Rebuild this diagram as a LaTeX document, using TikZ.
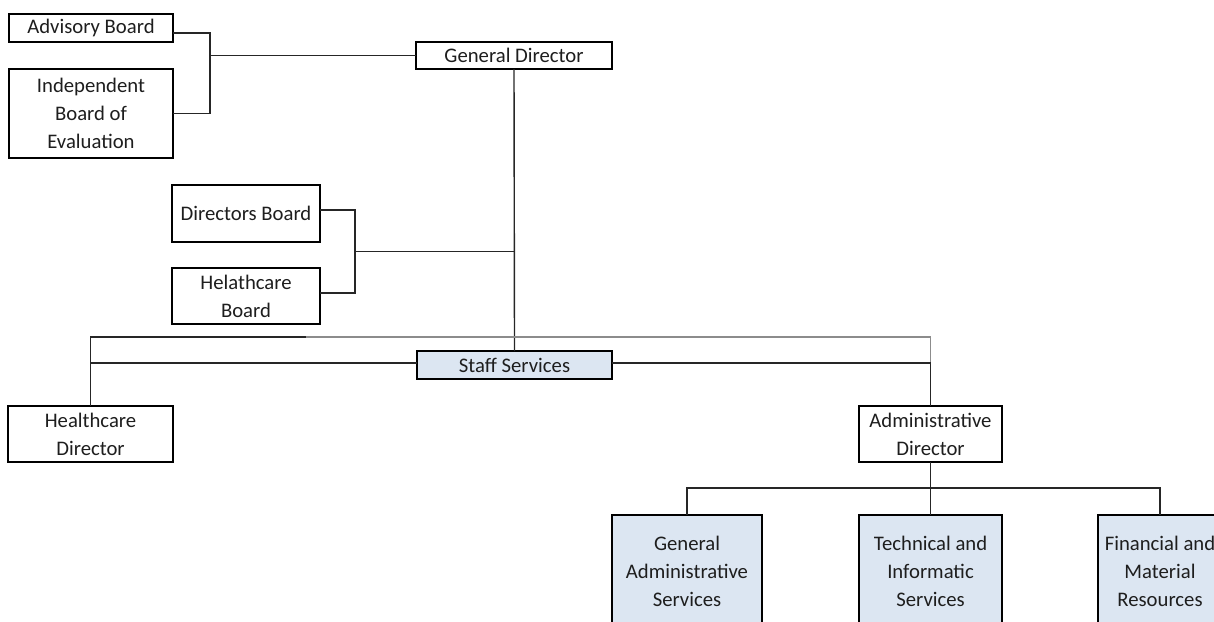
\documentclass[tikz,border=0pt]{standalone}
\usepackage{fontspec}
\setmainfont{Carlito}
\usetikzlibrary{calc}
\definecolor{paleblue}{HTML}{DCE6F2}
\definecolor{inkgray}{HTML}{1E1E1E}
\begin{document}
\begin{tikzpicture}[x=0.5pt,y=-0.5pt,
  every node/.style={font=\fontsize{10.35}{14}\selectfont, text=inkgray},
  unit/.style={rectangle, draw=black, line width=0.55pt, fill=white,
    inner sep=0pt, outer sep=0pt, align=center},
  heavy/.style={unit, line width=1.1pt},
  shaded/.style={unit, line width=1.4pt, fill=paleblue},
  bar/.style={draw=black, line width=1.1pt},
  link/.style={draw=black!85, line width=0.7pt},
  faint/.style={draw=black!45, line width=0.7pt}]
\useasboundingbox (0,0) rectangle (1214,621);
\clip (0,0) rectangle (1214,621);

% boards and directors
\node[unit, minimum width=82pt, minimum height=14pt] (adv) at (91,28) {Advisory Board};
\node[unit, minimum width=82pt, minimum height=44.5pt] (ind) at (91,113.5) {Independent\\Board of\\Evaluation};
\node[heavy, minimum width=98pt, minimum height=13.5pt] (gd) at (514,55.5) {General Director};
\node[unit, minimum width=74pt, minimum height=28.5pt] (dir) at (246,213.5) {Directors Board};
\node[unit, minimum width=74pt, minimum height=28pt] (hb) at (246,296) {Helathcare\\Board};
\node[shaded, minimum width=97.5pt, minimum height=14pt] (staff) at (514.5,365) {Staff Services};
\node[unit, minimum width=82.5pt, minimum height=28pt] (hd) at (90.5,434) {Healthcare\\Director};
\node[heavy, minimum width=71.5pt, minimum height=28pt] (ad) at (930.5,434) {Administrative\\Director};

% services under the administrative director
\node[shaded, minimum width=75pt, minimum height=56pt] (gas) at (687,571) {General\\Administrative\\Services};
\node[shaded, minimum width=71.5pt, minimum height=56pt] (tis) at (930.5,571) {Technical and\\Informatic\\Services};
\node[shaded, minimum width=62pt, minimum height=56pt] (fmr) at (1160,571) {Financial and\\Material\\Resources};

% heavier top and bottom edges of the plain boxes
\foreach \nm in {adv,ind,dir,hb,hd}
  \draw[bar] (\nm.north west) -- (\nm.north east) (\nm.south west) -- (\nm.south east);

% advisory boards to the general director
\coordinate (ja) at (210,0);
\coordinate (advp) at ([yshift=-2.5pt]adv.east);
\draw[link] (advp) -| (ja |- ind.east) -- (ind.east);
\draw[link] (gd.west) -- (gd.west -| ja);

% main vertical line
\draw[link] (gd.south) -- (staff.north);

% directors and healthcare boards
\coordinate (jb) at (355,0);
\coordinate (dirp) at ([yshift=1.75pt]dir.east);
\coordinate (hbp) at ([yshift=1.5pt]hb.east);
\draw[link] (dirp) -| (jb |- hbp) -- (hbp);
\coordinate (jbm) at ($(dirp)!0.5!(hbp)$);
\draw[link] (jbm -| jb) -- (jbm -| gd.south);

% branch lines to the two directors
\coordinate (top) at (0,337);
\coordinate (fade) at (306,337);
\coordinate (stw) at ([yshift=1pt]staff.west);
\coordinate (ste) at ([yshift=1pt]staff.east);
\draw[link] (hd.north) |- (fade);
\draw[faint] (fade) -| (ste -| ad.north);
\draw[link] (stw) -- (stw -| hd.north);
\draw[link] (ste) -| (ad.north);

% administrative director to its services
\coordinate (jc) at (0,488);
\draw[link] (ad.south) -- (tis.north);
\draw[link] (gas.north) |- (jc -| fmr.north) -- (fmr.north);
\end{tikzpicture}
\end{document}
